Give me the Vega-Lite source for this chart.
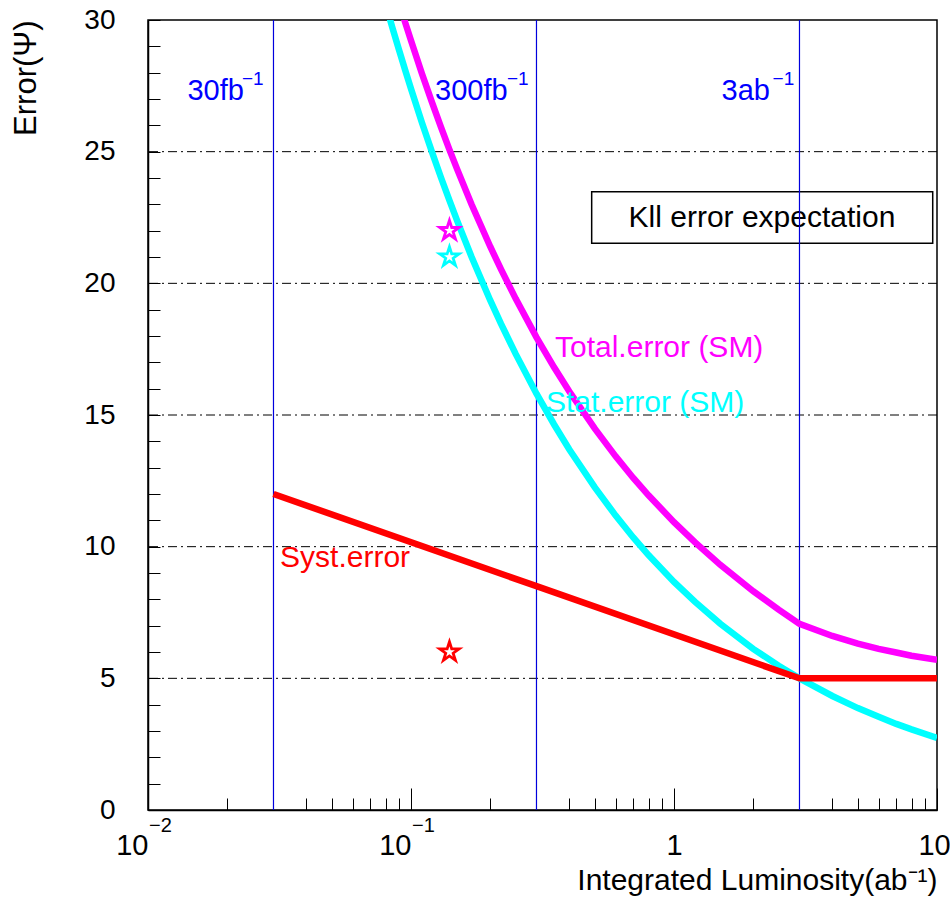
{
  "$schema": "https://vega.github.io/schema/vega-lite/v6.json",
  "width": 789,
  "height": 790,
  "autosize": {"type": "none"},
  "padding": {"left": 148, "top": 20, "right": 13, "bottom": 91},
  "background": "white",
  "config": {
    "view": {"stroke": "black", "strokeWidth": 1.5},
    "font": "Liberation Sans",
    "axis": {"labelFont": "Liberation Sans", "titleFont": "Liberation Sans", "labelColor": "black", "titleColor": "black", "domainColor": "black", "tickColor": "black", "grid": false}
  },
  "datasets": {
    "curves": [
      {"L": 0.075, "err": 31.62, "series": "Stat"},
      {"L": 0.08, "err": 30.62, "series": "Stat"},
      {"L": 0.085, "err": 29.70, "series": "Stat"},
      {"L": 0.09, "err": 28.87, "series": "Stat"},
      {"L": 0.095, "err": 28.10, "series": "Stat"},
      {"L": 0.1, "err": 27.39, "series": "Stat"},
      {"L": 0.11, "err": 26.11, "series": "Stat"},
      {"L": 0.12, "err": 25.00, "series": "Stat"},
      {"L": 0.13, "err": 24.02, "series": "Stat"},
      {"L": 0.14, "err": 23.15, "series": "Stat"},
      {"L": 0.15, "err": 22.36, "series": "Stat"},
      {"L": 0.17, "err": 21.00, "series": "Stat"},
      {"L": 0.2, "err": 19.36, "series": "Stat"},
      {"L": 0.22, "err": 18.46, "series": "Stat"},
      {"L": 0.25, "err": 17.32, "series": "Stat"},
      {"L": 0.3, "err": 15.81, "series": "Stat"},
      {"L": 0.35, "err": 14.64, "series": "Stat"},
      {"L": 0.4, "err": 13.69, "series": "Stat"},
      {"L": 0.5, "err": 12.25, "series": "Stat"},
      {"L": 0.6, "err": 11.18, "series": "Stat"},
      {"L": 0.7, "err": 10.35, "series": "Stat"},
      {"L": 0.8, "err": 9.68, "series": "Stat"},
      {"L": 1.0, "err": 8.66, "series": "Stat"},
      {"L": 1.2, "err": 7.91, "series": "Stat"},
      {"L": 1.5, "err": 7.07, "series": "Stat"},
      {"L": 2.0, "err": 6.12, "series": "Stat"},
      {"L": 2.5, "err": 5.48, "series": "Stat"},
      {"L": 3.0, "err": 5.00, "series": "Stat"},
      {"L": 4.0, "err": 4.33, "series": "Stat"},
      {"L": 5.0, "err": 3.87, "series": "Stat"},
      {"L": 6.0, "err": 3.54, "series": "Stat"},
      {"L": 7.0, "err": 3.27, "series": "Stat"},
      {"L": 8.0, "err": 3.06, "series": "Stat"},
      {"L": 10.0, "err": 2.74, "series": "Stat"},
      {"L": 0.09, "err": 30.66, "series": "Total"},
      {"L": 0.095, "err": 29.91, "series": "Total"},
      {"L": 0.1, "err": 29.22, "series": "Total"},
      {"L": 0.11, "err": 27.97, "series": "Total"},
      {"L": 0.12, "err": 26.89, "series": "Total"},
      {"L": 0.13, "err": 25.93, "series": "Total"},
      {"L": 0.14, "err": 25.08, "series": "Total"},
      {"L": 0.15, "err": 24.32, "series": "Total"},
      {"L": 0.17, "err": 22.99, "series": "Total"},
      {"L": 0.2, "err": 21.40, "series": "Total"},
      {"L": 0.22, "err": 20.53, "series": "Total"},
      {"L": 0.25, "err": 19.42, "series": "Total"},
      {"L": 0.3, "err": 17.95, "series": "Total"},
      {"L": 0.35, "err": 16.81, "series": "Total"},
      {"L": 0.4, "err": 15.89, "series": "Total"},
      {"L": 0.5, "err": 14.48, "series": "Total"},
      {"L": 0.6, "err": 13.43, "series": "Total"},
      {"L": 0.7, "err": 12.61, "series": "Total"},
      {"L": 0.8, "err": 11.95, "series": "Total"},
      {"L": 1.0, "err": 10.93, "series": "Total"},
      {"L": 1.2, "err": 10.17, "series": "Total"},
      {"L": 1.5, "err": 9.31, "series": "Total"},
      {"L": 2.0, "err": 8.31, "series": "Total"},
      {"L": 2.5, "err": 7.61, "series": "Total"},
      {"L": 3.0, "err": 7.07, "series": "Total"},
      {"L": 4.0, "err": 6.61, "series": "Total"},
      {"L": 5.0, "err": 6.32, "series": "Total"},
      {"L": 6.0, "err": 6.12, "series": "Total"},
      {"L": 7.0, "err": 5.98, "series": "Total"},
      {"L": 8.0, "err": 5.86, "series": "Total"},
      {"L": 10.0, "err": 5.70, "series": "Total"},
      {"L": 0.03, "err": 12.0, "series": "Syst"},
      {"L": 0.3, "err": 8.5, "series": "Syst"},
      {"L": 3.0, "err": 5.0, "series": "Syst"},
      {"L": 10.0, "err": 5.0, "series": "Syst"}
    ],
    "stars": [
      {"L": 0.14, "err": 22.0, "series": "Total"},
      {"L": 0.14, "err": 21.0, "series": "Stat"},
      {"L": 0.14, "err": 6.0, "series": "Syst"}
    ],
    "lumiLabels": [
      {"L": 0.01412, "err": 26.97, "text": "30fb", "series": "Lumi"},
      {"L": 0.1234, "err": 26.97, "text": "300fb", "series": "Lumi"},
      {"L": 1.517, "err": 26.97, "text": "3ab", "series": "Lumi"}
    ],
    "labels": [
      {"L": 0.3528, "err": 17.2, "text": "Total.error (SM)", "series": "Total"},
      {"L": 0.326, "err": 15.1, "text": "Stat.error (SM)", "series": "Stat"},
      {"L": 0.03177, "err": 9.23, "text": "Syst.error", "series": "Syst"}
    ],
    "sups": [
      {"L": 0.02277, "err": 27.55, "text": "−1", "series": "Lumi"},
      {"L": 0.2317, "err": 27.55, "text": "−1", "series": "Lumi"},
      {"L": 2.371, "err": 27.55, "text": "−1", "series": "Lumi"}
    ],
    "axisSups": [
      {"L": 0.01, "err": -0.82, "text": "−2"},
      {"L": 0.1, "err": -0.82, "text": "−1"}
    ],
    "box": [
      {"L": 0.4864, "L2": 9.632, "err": 23.48, "err2": 21.52, "mid": 2.16, "midErr": 22.5, "text": "Kll error expectation"}
    ],
    "hgrid": [
      {"err": 5}, {"err": 10}, {"err": 15}, {"err": 20}, {"err": 25}
    ],
    "vlines": [
      {"L": 0.03}, {"L": 0.3}, {"L": 3}
    ]
  },
  "layer": [
    {
      "data": {"name": "hgrid"},
      "mark": {"type": "rule", "color": "black", "strokeWidth": 1, "strokeDash": [9, 4, 2, 4]},
      "encoding": {
        "y": {
          "field": "err", "type": "quantitative",
          "scale": {"domain": [0, 30], "nice": false, "zero": false},
          "axis": {
            "orient": "left",
            "values": [0, 5, 10, 15, 20, 25, 30],
            "tickSize": -12, "tickWidth": 1, "domainWidth": 1.5,
            "labelFontSize": 28, "labelPadding": 45, "labelFlush": false, "labelOverlap": false,
            "title": "Error(Ψ)", "titleFontSize": 31, "titleFontWeight": "normal",
            "titleAnchor": "end", "titlePadding": 41
          }
        }
      }
    },
    {
      "data": {"name": "box"},
      "mark": {"type": "rect", "fill": "white", "stroke": "black", "strokeWidth": 1.5},
      "encoding": {
        "x": {"field": "L", "type": "quantitative", "scale": {"type": "log", "domain": [0.01, 10], "nice": false}, "axis": null},
        "x2": {"field": "L2"},
        "y": {"field": "err", "type": "quantitative", "scale": {"domain": [0, 30], "nice": false, "zero": false}, "axis": null},
        "y2": {"field": "err2"}
      }
    },
    {
      "data": {"name": "box"},
      "mark": {"type": "text", "fontSize": 30, "color": "black", "align": "center", "baseline": "middle", "font": "Liberation Sans"},
      "encoding": {
        "x": {"field": "mid", "type": "quantitative", "scale": {"type": "log", "domain": [0.01, 10], "nice": false}, "axis": null},
        "y": {"field": "midErr", "type": "quantitative", "scale": {"domain": [0, 30], "nice": false, "zero": false}, "axis": null},
        "text": {"field": "text"}
      }
    },
    {
      "data": {"name": "vlines"},
      "mark": {"type": "rule", "color": "#0000dd", "strokeWidth": 1.2},
      "encoding": {
        "x": {
          "field": "L", "type": "quantitative",
          "scale": {"type": "log", "domain": [0.01, 10], "nice": false},
          "axis": {
            "orient": "bottom",
            "values": [0.02,0.03,0.04,0.05,0.06,0.07,0.08,0.09,0.2,0.3,0.4,0.5,0.6,0.7,0.8,0.9,2,3,4,5,6,7,8,9],
            "labels": false, "domain": false, "tickSize": -12, "tickWidth": 1, "title": null
          }
        }
      }
    },
    {
      "data": {"name": "curves"},
      "mark": {"type": "line", "strokeWidth": 6.5, "clip": true, "strokeCap": "butt"},
      "encoding": {
        "x": {
          "field": "L", "type": "quantitative",
          "scale": {"type": "log", "domain": [0.01, 10], "nice": false},
          "axis": {
            "orient": "bottom",
            "values": [0.01, 0.1, 1, 10],
            "labelExpr": "datum.value < 0.5 ? '10' : datum.value < 5 ? '1' : '10'",
            "labelAlign": {"condition": {"test": "datum.value < 0.5", "value": "right"}, "value": "center"},
            "labelOffset": {"condition": {"test": "datum.value > 5", "value": -3}, "value": 0},
            "tickSize": -22, "tickWidth": 1, "domainWidth": 1.5,
            "labelFontSize": 29, "labelPadding": 43, "labelFlush": false, "labelOverlap": false,
            "title": "Integrated Luminosity(ab⁻¹)", "titleFontSize": 30, "titleFontWeight": "normal",
            "titleAnchor": "end", "titlePadding": 5
          }
        },
        "y": {
          "field": "err", "type": "quantitative",
          "scale": {"domain": [0, 30], "nice": false, "zero": false},
          "axis": {
            "orient": "left",
            "values": [1,2,3,4,6,7,8,9,11,12,13,14,16,17,18,19,21,22,23,24,26,27,28,29],
            "labels": false, "domain": false, "tickSize": -12, "tickWidth": 1, "title": null
          }
        },
        "color": {"field": "series", "type": "nominal", "scale": {"domain": ["Total", "Stat", "Syst", "Lumi"], "range": ["#ff00ff", "#00ffff", "#ff0000", "#0000ff"]}, "legend": null}
      }
    },
    {
      "data": {"name": "stars"},
      "mark": {"type": "point", "shape": "M0,-1L0.223,-0.307L0.951,-0.309L0.361,0.117L0.588,0.809L0,0.38L-0.588,0.809L-0.361,0.117L-0.951,-0.309L-0.223,-0.307Z", "filled": false, "strokeWidth": 2.8, "size": 420, "opacity": 1},
      "encoding": {
        "x": {"field": "L", "type": "quantitative", "scale": {"type": "log", "domain": [0.01, 10], "nice": false}, "axis": null},
        "y": {"field": "err", "type": "quantitative", "scale": {"domain": [0, 30], "nice": false, "zero": false}, "axis": null},
        "color": {"field": "series", "type": "nominal", "scale": {"domain": ["Total", "Stat", "Syst", "Lumi"], "range": ["#ff00ff", "#00ffff", "#ff0000", "#0000ff"]}, "legend": null}
      }
    },
    {
      "data": {"name": "labels"},
      "mark": {"type": "text", "fontSize": 30, "align": "left", "baseline": "alphabetic", "font": "Liberation Sans"},
      "encoding": {
        "x": {"field": "L", "type": "quantitative", "scale": {"type": "log", "domain": [0.01, 10], "nice": false}, "axis": null},
        "y": {"field": "err", "type": "quantitative", "scale": {"domain": [0, 30], "nice": false, "zero": false}, "axis": null},
        "text": {"field": "text"},
        "color": {"field": "series", "type": "nominal", "scale": {"domain": ["Total", "Stat", "Syst", "Lumi"], "range": ["#ff00ff", "#00ffff", "#ff0000", "#0000ff"]}, "legend": null}
      }
    },
    {
      "data": {"name": "lumiLabels"},
      "mark": {"type": "text", "fontSize": 29, "align": "left", "baseline": "alphabetic", "font": "Liberation Sans"},
      "encoding": {
        "x": {"field": "L", "type": "quantitative", "scale": {"type": "log", "domain": [0.01, 10], "nice": false}, "axis": null},
        "y": {"field": "err", "type": "quantitative", "scale": {"domain": [0, 30], "nice": false, "zero": false}, "axis": null},
        "text": {"field": "text"},
        "color": {"field": "series", "type": "nominal", "scale": {"domain": ["Total", "Stat", "Syst", "Lumi"], "range": ["#ff00ff", "#00ffff", "#ff0000", "#0000ff"]}, "legend": null}
      }
    },
    {
      "data": {"name": "sups"},
      "mark": {"type": "text", "fontSize": 19, "align": "left", "baseline": "alphabetic", "font": "Liberation Sans"},
      "encoding": {
        "x": {"field": "L", "type": "quantitative", "scale": {"type": "log", "domain": [0.01, 10], "nice": false}, "axis": null},
        "y": {"field": "err", "type": "quantitative", "scale": {"domain": [0, 30], "nice": false, "zero": false}, "axis": null},
        "text": {"field": "text"},
        "color": {"field": "series", "type": "nominal", "scale": {"domain": ["Total", "Stat", "Syst", "Lumi"], "range": ["#ff00ff", "#00ffff", "#ff0000", "#0000ff"]}, "legend": null}
      }
    },
    {
      "data": {"name": "axisSups"},
      "mark": {"type": "text", "fontSize": 20, "align": "left", "baseline": "alphabetic", "font": "Liberation Sans", "color": "black", "clip": false, "dx": 1},
      "encoding": {
        "x": {"field": "L", "type": "quantitative", "scale": {"type": "log", "domain": [0.01, 10], "nice": false}, "axis": null},
        "y": {"field": "err", "type": "quantitative", "scale": {"domain": [0, 30], "nice": false, "zero": false}, "axis": null},
        "text": {"field": "text"}
      }
    }
  ],
  "resolve": {"axis": {"x": "independent", "y": "independent"}}
}
